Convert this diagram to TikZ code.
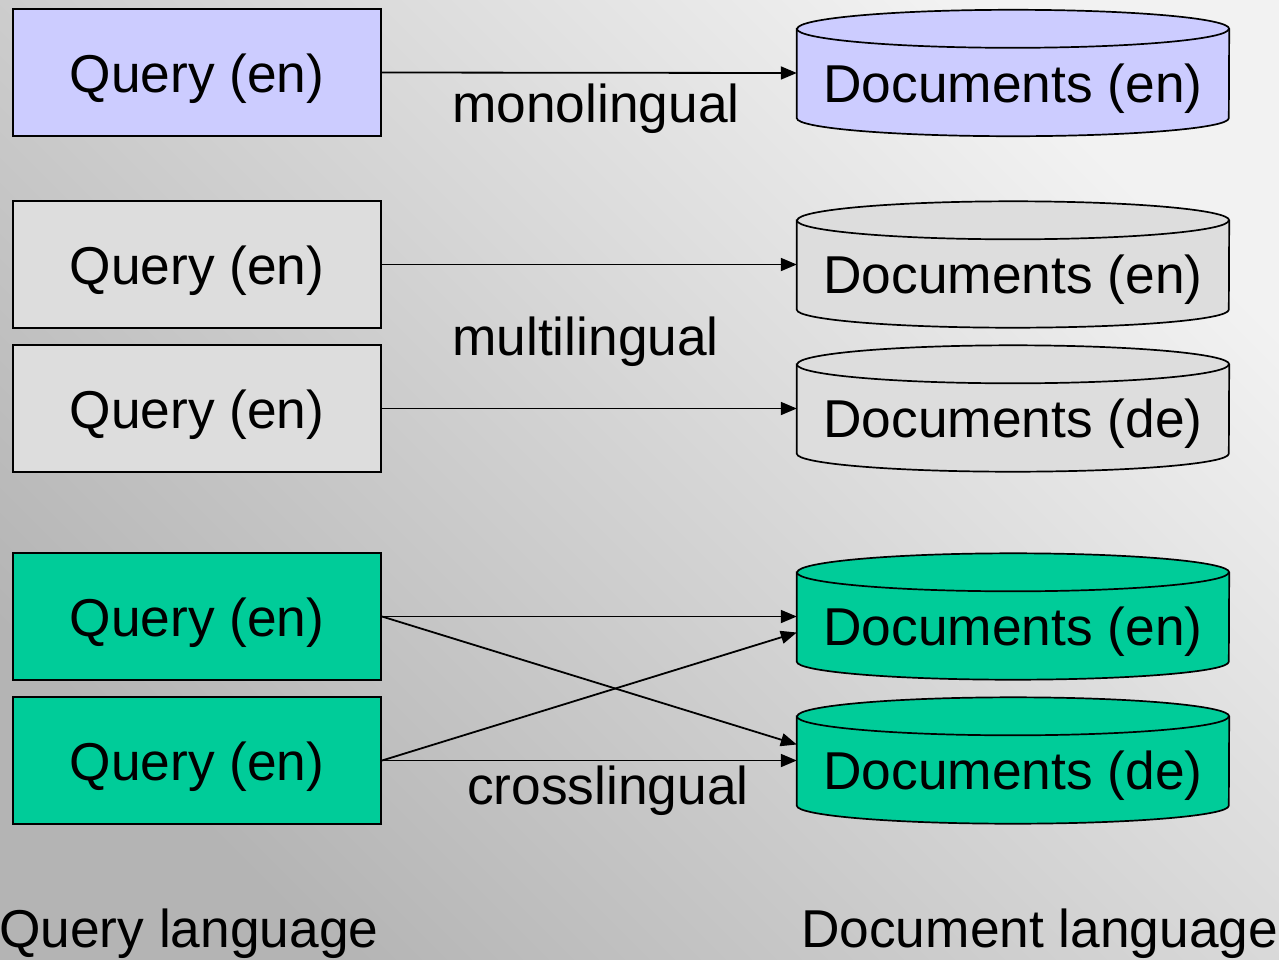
\documentclass[tikz,border=0pt]{standalone}
\usepackage{fontspec}
\setmainfont{Liberation Sans}
\usetikzlibrary{arrows.meta}
\pgfdeclarelayer{bg}
\pgfdeclarelayer{cyl}
\pgfsetlayers{bg,cyl,main}

\definecolor{monofill}{HTML}{CCCCFF}
\definecolor{multifill}{HTML}{DDDDDD}
\definecolor{crossfill}{HTML}{00CC99}
\definecolor{bglight}{HTML}{F2F2F2}
\definecolor{bgdark}{HTML}{B4B4B4}

\tikzset{
  bigtext/.style={font=\fontsize{53.3}{64}\selectfont},
  querybox/.style={draw=black, line width=2pt, bigtext,
    minimum width=368pt, minimum height=127pt, inner sep=0pt,
    text height=39.5pt, text depth=0pt},
  docbox/.style={bigtext, minimum width=432pt, minimum height=126pt,
    inner sep=0pt, text height=58pt, text depth=0pt},
  cylline/.style={draw=black, line width=1.7pt},
  link/.style={draw=black, line width=1.8pt,
    -{Triangle[length=16pt,width=13pt]}},
  caption/.style={bigtext, anchor=base west, inner sep=0pt},
}

% cylinder outline around a docbox node
\newcommand\dbshape[2]{%
  \begin{pgfonlayer}{cyl}
    \filldraw[cylline, fill=#2]
      ([yshift=-19pt]#1.north west) -- ([yshift=18pt]#1.south west)
      arc[start angle=180, end angle=360, x radius=216pt, y radius=18pt]
      -- ([yshift=-19pt]#1.north east)
      arc[start angle=0, end angle=180, x radius=216pt, y radius=19pt]
      -- cycle;
    \draw[cylline] ([yshift=-19pt]#1.north west)
      arc[start angle=180, end angle=360, x radius=216pt, y radius=19pt];
  \end{pgfonlayer}}

\begin{document}
\begin{tikzpicture}[x=1pt, y=1pt]
  \useasboundingbox (0,0) rectangle (1279,-959);
  \begin{pgfonlayer}{bg}
    \shade[top color=bglight, bottom color=bgdark, shading angle=-45]
      (0,0) rectangle (1279,-959);
  \end{pgfonlayer}

  % query side
  \node[querybox, fill=monofill]  (q1) at (197,-72.5)  {Query (en)};
  \node[querybox, fill=multifill] (q2) at (197,-264.5) {Query (en)};
  \node[querybox, fill=multifill] (q3) at (197,-408.5) {Query (en)};
  \node[querybox, fill=crossfill] (q4) at (197,-616.5) {Query (en)};
  \node[querybox, fill=crossfill] (q5) at (197,-760.5) {Query (en)};

  % document side
  \node[docbox] (d1) at (1013,-73)    {Documents (en)};
  \node[docbox] (d2) at (1013,-264.5) {Documents (en)};
  \node[docbox] (d3) at (1013,-408.5) {Documents (de)};
  \node[docbox] (d4) at (1013,-616.5) {Documents (en)};
  \node[docbox] (d5) at (1013,-760.5) {Documents (de)};
  \dbshape{d1}{monofill}
  \dbshape{d2}{multifill}
  \dbshape{d3}{multifill}
  \dbshape{d4}{crossfill}
  \dbshape{d5}{crossfill}

  % connectors
  \draw[link] (q1.east) -- (d1.west);
  \draw[link] (q2.east) -- (d2.west);
  \draw[link] (q3.east) -- (d3.west);
  \draw[link] (q4.east) -- (d4.west);
  \draw[link] (q4.east) -- ([yshift=16pt]d5.west);
  \draw[link] (q5.east) -- ([yshift=-16pt]d4.west);
  \draw[link] (q5.east) -- (d5.west);

  % labels
  \node[caption] (mono)  at (452,-122) {monolingual};
  \node[caption] (multi) at (452,-355) {multilingual};
  \node[caption] (cross) at (467,-804) {crosslingual};
  \node[caption] (qlang) at (-1,-947)  {Query language};
  \node[caption] (dlang) at (801,-947) {Document language};
\end{tikzpicture}
\end{document}
